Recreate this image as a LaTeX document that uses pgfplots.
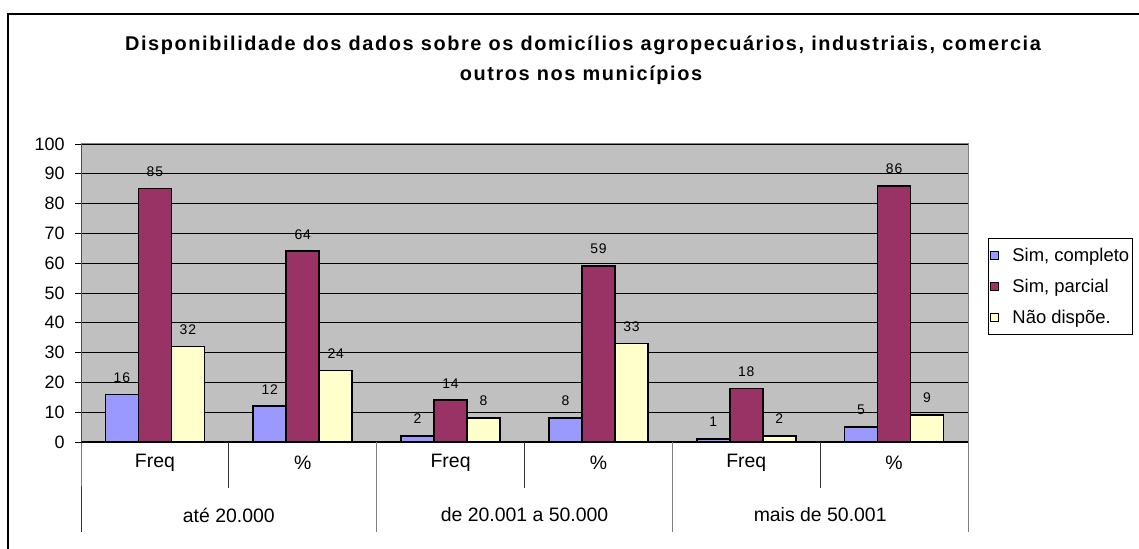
\documentclass[border=0pt]{standalone}
\usepackage{fontspec}
\setmainfont{Liberation Sans}
\usepackage{pgfplots}
\pgfplotsset{compat=1.18}
\definecolor{cblue}{HTML}{9999FF}
\definecolor{cpurple}{HTML}{993366}
\definecolor{cyellow}{HTML}{FFFFCC}
\definecolor{plotgray}{HTML}{C0C0C0}
\definecolor{bordergray}{HTML}{808080}
\begin{document}
\begin{tikzpicture}[x=1bp,y=1bp]
\useasboundingbox (0,0) rectangle (1139,549);
\fill[white] (0,0) rectangle (1139,549);
\draw[line width=2.5bp] (8,-5) -- (8,535) -- (1150,535);
\node[font=\fontsize{20}{20}\selectfont\bfseries\addfontfeature{LetterSpace=8}] at (583,504) {Disponibilidade dos dados sobre os domicílios agropecuários, industriais, comercia};
\node[font=\fontsize{20}{20}\selectfont\bfseries\addfontfeature{LetterSpace=8}] at (581,474) {outros nos municípios};
\begin{axis}[
  at={(81bp,107bp)}, anchor=south west,
  width=887bp, height=298bp, scale only axis,
  ybar=0pt, bar width=33bp,
  xmin=-0.5, xmax=5.5, ymin=0, ymax=100,
  ytick={0,10,...,100},
  xtick={0,1,2,3,4,5},
  xticklabels={Freq,\%,Freq,\%,Freq,\%},
  xtick style={draw=none},
  ytick pos=left,
  tick align=outside,
  major tick length=6bp,
  ytick style={black, line width=0.8bp},
  /pgf/number format/assume math mode=true,
  yticklabel style={font=\fontsize{18}{18}\selectfont, xshift=-7bp},
  xticklabel style={font=\fontsize{19.5}{19.5}\selectfont, anchor=center, yshift=-15bp},
  axis background/.style={fill=plotgray},
  ymajorgrids, grid style={black, line width=0.8bp},
  axis line style={draw=bordergray, line width=1bp},
  clip=false,
  nodes near coords,
  every node near coord/.append style={font=\fontsize{14}{14}\selectfont\addfontfeature{LetterSpace=6}, text=black, yshift=8bp},
  legend style={at={(axis description cs:1.0226,0.6846)}, anchor=north west,
    draw=black, fill=white, line width=0.8bp,
    font=\fontsize{18.5}{18.5}\selectfont, row sep=12bp, inner ysep=8bp, inner xsep=1bp},
  legend cell align=left,
  legend image code/.code={\draw[#1,draw=black,line width=0.8bp] (1bp,-4bp) rectangle (9bp,4bp); \path[draw=none,fill=none] (0bp,0bp) -- (21bp,0bp);},
]
\addplot[fill=cblue, draw=black, line width=1.6bp] coordinates {(0,16) (1,12) (2,2) (3,8) (4,1) (5,5)};
\addplot[fill=cpurple, draw=black, line width=1.6bp] coordinates {(0,85) (1,64) (2,14) (3,59) (4,18) (5,86)};
\addplot[fill=cyellow, draw=black, line width=1.6bp] coordinates {(0,32) (1,24) (2,8) (3,33) (4,2) (5,9)};
\legend{{Sim, completo}, {Sim, parcial}, Não dispõe.}
\draw[black, line width=1.2bp] (axis cs:-0.5,0) -- (axis cs:5.5,0);
\draw[black!80, line width=1bp] (axis cs:-0.5,100) -- (axis cs:-0.5,0) -- ++(0bp,-90bp);
\draw[bordergray, line width=1bp] (axis cs:1.5,0) -- ++(0bp,-90bp);
\draw[bordergray, line width=1bp] (axis cs:3.5,0) -- ++(0bp,-90bp);
\draw[bordergray, line width=1bp] (axis cs:5.5,0) -- ++(0bp,-90bp);
\draw[black!80, line width=1bp] (axis cs:0.5,0) -- ++(0bp,-46bp);
\draw[black!80, line width=1bp] (axis cs:2.5,0) -- ++(0bp,-46bp);
\draw[black!80, line width=1bp] (axis cs:4.5,0) -- ++(0bp,-46bp);
\node[font=\fontsize{19.5}{19.5}\selectfont] at ([yshift=-73bp]axis cs:0.5,0) {até 20.000};
\node[font=\fontsize{19.5}{19.5}\selectfont] at ([yshift=-73bp]axis cs:2.5,0) {de 20.001 a 50.000};
\node[font=\fontsize{19.5}{19.5}\selectfont] at ([yshift=-73bp]axis cs:4.5,0) {mais de 50.001};
\end{axis}
\end{tikzpicture}
\end{document}
